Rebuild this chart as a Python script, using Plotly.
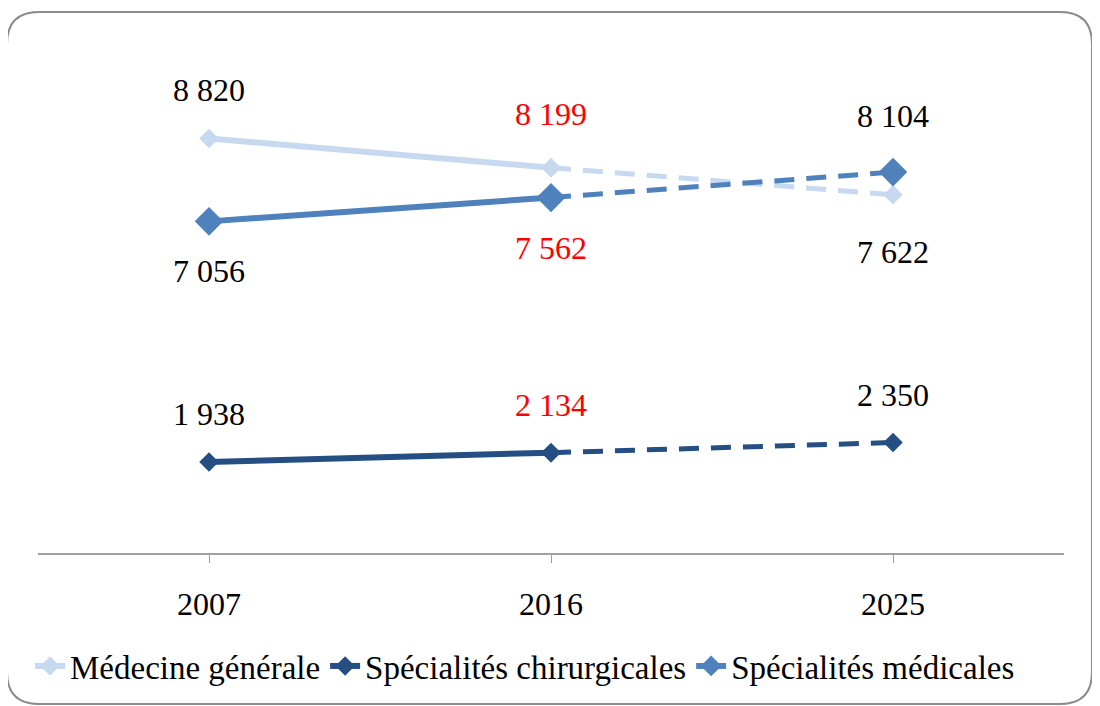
import plotly.graph_objects as go

years = ["2007", "2016", "2025"]
medecine_generale = [8820, 8199, 7622]
spec_chirurgicales = [1938, 2134, 2350]
spec_medicales = [7056, 7562, 8104]

series_names = ["Médecine générale", "Spécialités chirurgicales", "Spécialités médicales"]
series_values = [medecine_generale, spec_chirurgicales, spec_medicales]
colors = ["#C6D9F1", "#254E83", "#4F81BD"]
marker_sizes = [15, 15, 22]
# label offsets in pixels (positive = above the point)
label_shift = [[48, 54, -57], [48, 48, 48], [-50, -50, 56]]
label_colors = ["#000000", "#FF0000", "#000000"]

FONT = "Liberation Serif"

# page has an 8px body margin: figure coords = screen coords - 8
OFF = 8
W, H = 1100 - OFF, 706 - OFF
L, R, T, B = 38 - OFF, 1064 - OFF, 83 - OFF, 553 - OFF

fig = go.Figure()
for name, vals, col, ms in zip(series_names, series_values, colors, marker_sizes):
    fig.add_trace(go.Scatter(
        x=years[:2], y=vals[:2], mode="lines+markers", name=name,
        line=dict(color=col, width=6),
        marker=dict(symbol="diamond", size=ms, color=col),
        legendgroup=name, showlegend=True))
    fig.add_trace(go.Scatter(
        x=years[1:], y=vals[1:], mode="lines+markers", name=name,
        line=dict(color=col, width=5, dash="20px,12px"),
        marker=dict(symbol="diamond", size=ms, color=col),
        legendgroup=name, showlegend=False))

for vals, shifts in zip(series_values, label_shift):
    for i, v in enumerate(vals):
        txt = f"{v:,}".replace(",", " ")
        fig.add_annotation(
            x=i, y=v, xref="x", yref="y", text=txt, showarrow=False,
            yshift=shifts[i],
            font=dict(family=FONT, size=32, color=label_colors[i]))

def P(x, y):
    a = (x - OFF - L) / (R - L)
    b = (B - (y - OFF)) / (B - T)
    return f"{a:.5f},{b:.5f}"

x0, x1, y0, y1, r = 7, 1092, 12, 704, 32
path = (f"M {P(x0 + r, y0)} L {P(x1 - r, y0)} Q {P(x1, y0)} {P(x1, y0 + r)} "
        f"L {P(x1, y1 - r)} Q {P(x1, y1)} {P(x1 - r, y1)} "
        f"L {P(x0 + r, y1)} Q {P(x0, y1)} {P(x0, y1 - r)} "
        f"L {P(x0, y0 + r)} Q {P(x0, y0)} {P(x0 + r, y0)} Z")
fig.add_shape(type="path", xref="paper", yref="paper", path=path,
              line=dict(color="#8C8C8C", width=2), layer="below")

lx = (30 - OFF - L) / (R - L)
ly = (B - (666 - OFF)) / (B - T)
fig.update_layout(
    width=W, height=H,
    margin=dict(l=L, r=W - R, t=T, b=H - B, pad=0),
    paper_bgcolor="white", plot_bgcolor="white",
    font=dict(family=FONT),
    xaxis=dict(type="category", categoryorder="array", categoryarray=years,
               range=[-0.5, 2.5], showgrid=False, zeroline=False,
               showline=True, linecolor="#A0A0A0", linewidth=2,
               ticks="outside", ticklen=8, tickcolor="#A0A0A0", tickwidth=1,
               ticklabelstandoff=14,
               tickfont=dict(family=FONT, size=32, color="black")),
    yaxis=dict(range=[0, 10000], visible=False),
    legend=dict(orientation="h", x=lx, y=ly, xanchor="left", yanchor="middle",
                font=dict(family=FONT, size=33, color="black"),
                itemwidth=30, tracegroupgap=0, bgcolor="rgba(0,0,0,0)"),
    showlegend=True,
)

fig.write_html("out.html")
